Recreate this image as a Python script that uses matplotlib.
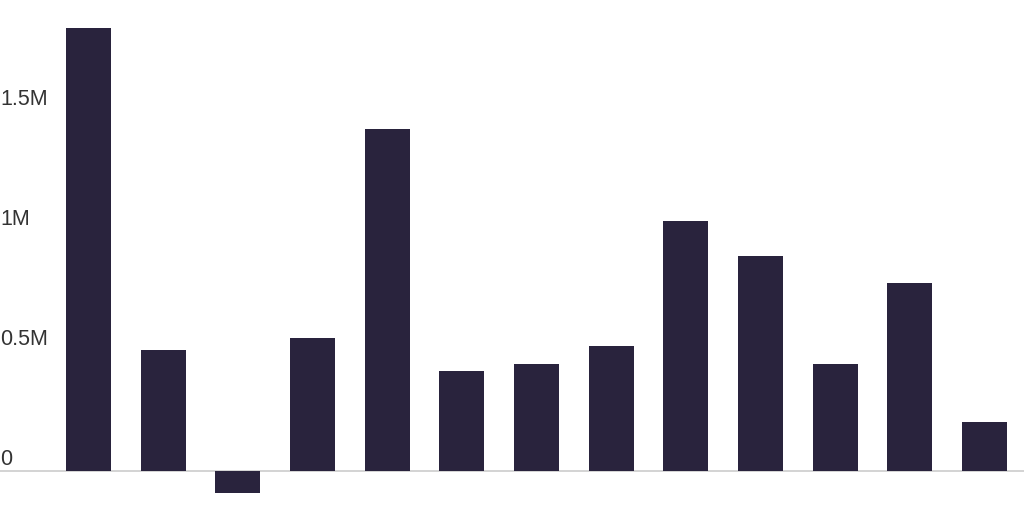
import matplotlib.pyplot as plt
import matplotlib.transforms as mtransforms

values = [1.846, 0.504, -0.092, 0.554, 1.425, 0.417, 0.446, 0.521, 1.042, 0.896, 0.446, 0.783, 0.204]
values = [v * 1e6 for v in values]
tick_vals = [0, 0.5e6, 1e6, 1.5e6]
tick_labels = ['0', '0.5M', '1M', '1.5M']

fig = plt.figure(figsize=(10.24, 5.12), dpi=100)
ax = fig.add_axes([0, 0, 1, 1])

x = list(range(len(values)))
ax.bar(x, values, width=0.6, color='#29233d', zorder=2)
ax.axhline(0, color='#cccccc', linewidth=1.2, zorder=1)

ax.set_xlim(-1.185, 12.53)
ax.set_ylim(-0.171e6, 1.9625e6)
ax.axis('off')

# labels sit just above the value they mark, no gridlines
trans = mtransforms.blended_transform_factory(ax.transAxes, ax.transData)
for v, lab in zip(tick_vals, tick_labels):
    ax.annotate(lab, xy=(0, v), xycoords=trans, xytext=(0, 6), textcoords='offset pixels',
                ha='left', va='baseline', fontsize=15.5, color='#333333',
                family=['Liberation Sans', 'DejaVu Sans'])

fig.savefig('out.png', dpi=100)
